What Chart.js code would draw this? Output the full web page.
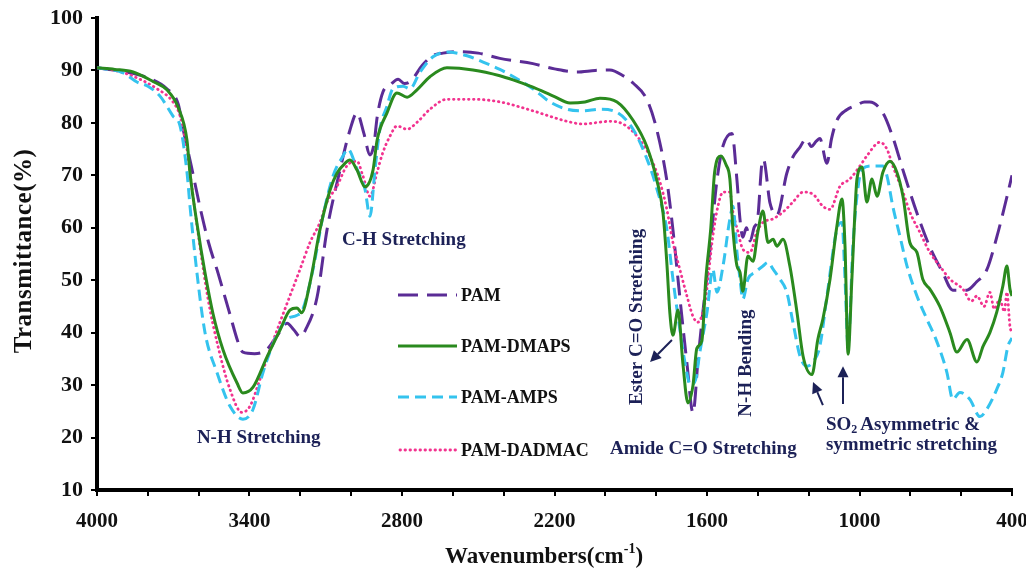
<!DOCTYPE html>
<html><head><meta charset="utf-8">
<script src="https://cdn.jsdelivr.net/npm/chart.js@4.4.0/dist/chart.umd.min.js"></script>
<style>html,body{margin:0;padding:0;background:#fff;}#wrap{width:1026px;height:570px;}</style>
</head><body><div id="wrap"><canvas id="c" width="1026" height="570"></canvas></div>
<script>
// ---------- DATA ----------
const seriesNames = ['PAM', 'PAM-DMAPS', 'PAM-AMPS', 'PAM-DADMAC'];
const xTickLabels = [4000, 3400, 2800, 2200, 1600, 1000, 400];
const yTicks = [10, 20, 30, 40, 50, 60, 70, 80, 90, 100];

const pamWn = [4000,3900,3800,3725,3680,3662,3630,3595,3560,3524,3480,3440,3426,3380,3347,3331,3290,3252,3225,3200,3180,3134,3095,3044,3005,2977,2950,2926,2910,2898,2875,2847,2815,2790,2765,2720,2680,2639,2580,2500,2415,2285,2200,2112,2040,1982,1930,1891,1836,1797,1758,1734,1707,1679,1655,1635,1616,1588,1561,1537,1502,1482,1470,1459,1445,1430,1415,1400,1384,1378,1352,1325,1286,1262,1234,1210,1190,1170,1156,1128,1110,1089,1050,1010,980,960,908,869,829,774,723,672,633,578,539,499,460,420,400];
const pamT  = [90.5,89.8,88.6,86.5,83.5,79,72,64,57,51.4,44,37.5,36.3,36,36.3,36.8,39.5,41.8,40.5,39.2,40.5,46.8,59.6,71,78.6,81.9,78,73.9,76,81,85.9,87.2,88.3,87.5,88,91,92.8,93.3,93.6,93.3,92.3,91.3,90.3,89.7,90,90.1,89,87.6,84.4,78.6,69,59.6,46.8,34.2,24.7,35,44,56,69,75.6,78,69,61.5,58.2,60,57.5,60,62,72.3,73,64.7,62.4,70.4,73.5,75.4,77,75.5,76.5,77,72.3,77,80.5,82.5,83.4,84,84,81.9,77.3,71,62.8,56.3,51.4,48.1,48.1,49.7,52,58.2,65.9,70];

const dmapsWn = [4000,3930,3858,3780,3725,3681,3646,3634,3607,3575,3544,3504,3449,3426,3386,3331,3280,3241,3213,3195,3162,3123,3083,3056,3024,3005,2977,2946,2914,2898,2859,2820,2780,2741,2690,2623,2521,2415,2363,2285,2200,2139,2080,2021,1954,1891,1836,1797,1773,1758,1746,1734,1714,1695,1675,1655,1640,1620,1605,1585,1570,1545,1525,1510,1498,1482,1470,1459,1439,1419,1400,1380,1360,1340,1325,1301,1274,1246,1222,1187,1164,1144,1116,1089,1069,1057,1045,1030,1018,1010,990,971,951,931,908,880,853,829,802,774,751,723,684,644,617,577,538,514,487,460,436,420,408,400];
const dmapsT  = [90.5,90.2,89.7,87.9,86.3,83,76.7,70.4,60.9,51.4,43.7,36.7,30.4,28.5,29.6,35.4,40.5,44.3,44.7,43.8,49.5,59.6,67.2,70.4,72.3,72.9,71,67.8,71,76.7,81.9,85.7,84.9,86.3,88.8,90.5,90.1,89,88.2,86.8,85,83.8,84,84.7,84,80.5,75.4,69,62.8,53.3,43.7,39.5,44.3,34.2,26.6,30,37,38.5,50,60,70.6,73.7,72,69.3,59.7,52.7,51.5,47.9,54.6,53.6,59.2,63.2,57.2,57.8,56.5,57.8,52.7,43.9,35.5,32,38.7,42.6,50.2,60.3,65.5,56.5,35.9,50.2,63,69.3,71.6,64.9,69.3,66,70.6,72.7,70.6,66,57.2,55.3,50.2,48.3,45,40,36.3,38.7,34.4,37.4,40,43.9,48.9,52.7,48.3,47];

const ampsWn = [4000,3900,3843,3800,3752,3701,3673,3646,3634,3607,3575,3528,3477,3426,3386,3347,3300,3252,3213,3190,3150,3111,3072,3032,3013,2977,2946,2926,2906,2887,2859,2836,2796,2769,2729,2678,2623,2544,2481,2415,2387,2285,2218,2151,2088,2021,1954,1891,1836,1797,1758,1734,1707,1687,1665,1645,1628,1600,1577,1561,1537,1510,1498,1482,1470,1459,1439,1411,1380,1360,1340,1313,1286,1262,1234,1207,1183,1156,1128,1089,1069,1057,1045,1026,1010,990,947,908,892,869,841,813,774,735,695,656,633,605,566,526,499,460,436,416,400];
const ampsT  = [90.5,89.6,87.8,87,85.1,81.3,79.4,70.6,64.1,51.5,40,32.4,26,23.5,25.4,32.4,38.7,42.6,43.3,44.5,52.1,62.2,69.8,73.7,75,71.2,67.4,62.2,71.2,78.8,83.2,86.5,87,86.5,89.7,92.6,93.5,92.8,91.6,90.2,89.5,86.5,84,82.6,82.3,82.6,82,78.8,73.1,67.4,59.7,50.2,40.7,34.4,30,31,36.3,43.9,52.1,47.7,52.7,61.7,64.1,55.3,50.2,46.4,50.2,51.5,52.7,53.4,52.1,50.2,47.7,42,35.5,33.6,34.4,37.4,47,59.7,61,50.2,37.4,56.5,66,71.2,71.8,71.8,69.9,64.1,58.4,52.7,47,42.6,38.2,32.4,27.3,28.6,27.3,24,25.4,29.2,32.4,37.4,39];

const dadmacWn = [4000,3930,3858,3764,3701,3673,3646,3626,3595,3563,3524,3477,3430,3398,3359,3319,3280,3241,3201,3162,3123,3095,3056,3017,2977,2954,2926,2898,2875,2847,2820,2780,2741,2690,2623,2521,2415,2285,2151,2088,1982,1931,1876,1825,1785,1758,1734,1707,1679,1655,1636,1608,1577,1557,1537,1510,1498,1478,1459,1431,1404,1380,1340,1301,1262,1222,1183,1144,1116,1077,1038,998,971,920,892,869,829,802,763,723,684,644,593,560,538,510,487,470,448,430,420,408,400];
const dadmacT  = [90.5,90,88.9,86.5,84,81.3,75,67.4,56.5,46.4,37.4,29.2,24.8,26,31.1,36.8,42,47,52.1,57.2,61,64.9,67.9,71.8,72.7,69.9,66,70.6,74.4,77.5,79.4,78.8,80.1,82.6,84.5,84.5,84,82.3,80.3,79.8,80.3,79.8,77.5,73.7,68.7,63.5,57.2,52.1,47,43.1,42,45.8,58.4,64.1,66.8,66.8,63,59.2,55.9,55.3,59.2,61,61.7,63,64.9,66.8,66.4,64.1,63.5,67.9,69.3,71.8,73.7,76.3,75,71.8,66.8,63,59.2,55.3,52.7,50.2,48.3,46,47,45,47.7,44.5,46.4,44,47.7,41.2,40];

// ---------- CHART ----------
const SERIF = '"Liberation Serif", "Times New Roman", serif';
const NAVY = '#1c2157';
const colors = ['#5b2c96', '#2a8a1e', '#34c3ee', '#f2338f'];
const dashes = [[20, 9], [], [11, 6], [0.5, 4.5]];
const widths = [3, 3, 3, 2.8];
const caps = ['butt', 'butt', 'butt', 'round'];

function toPoints(wn, t) { return wn.map((w, i) => ({ x: w, y: t[i] })); }
const seriesData = [toPoints(pamWn, pamT), toPoints(dmapsWn, dmapsT), toPoints(ampsWn, ampsT), toPoints(dadmacWn, dadmacT)];

const notes = [
  { text: 'C-H Stretching', wn: 3036, t: 57.7, rot: false },
  { text: 'N-H Stretching', wn: 3607, t: 19.9, rot: false },
  { text: 'Amide C=O Stretching', wn: 1982, t: 17.8, rot: false },
  { text: 'symmetric stretching', wn: 1132, t: 18.6, rot: false },
  { text: 'Ester C=O Stretching', wn: 1875, t: 43.0, rot: true },
  { text: 'N-H Bending', wn: 1447, t: 34.2, rot: true }
];
const arrows = [
  { from: [1738, 38.6], to: [1824, 34.4] },
  { from: [1144, 26.2], to: [1183, 30.6] },
  { from: [1065, 26.4], to: [1065, 33.6] }
];

const overlay = {
  id: 'overlay',
  afterDraw(chart) {
    const { ctx, scales: { x, y } } = chart;
    ctx.save();
    ctx.fillStyle = NAVY;
    ctx.font = 'bold 19px ' + SERIF;
    ctx.textBaseline = 'middle';
    notes.forEach(n => {
      const px = x.getPixelForValue(n.wn), py = y.getPixelForValue(n.t);
      if (n.rot) {
        ctx.save(); ctx.translate(px, py); ctx.rotate(-Math.PI / 2);
        ctx.textAlign = 'center'; ctx.fillText(n.text, 0, 0); ctx.restore();
      } else {
        ctx.textAlign = 'left'; ctx.fillText(n.text, px, py);
      }
    });
    {
      let px = x.getPixelForValue(1132), py = y.getPixelForValue(22.4);
      ctx.textAlign = 'left';
      ctx.fillText('SO', px, py); px += ctx.measureText('SO').width;
      ctx.font = 'bold 12px ' + SERIF; ctx.fillText('2', px, py + 5); px += ctx.measureText('2').width + 3;
      ctx.font = 'bold 19px ' + SERIF; ctx.fillText('Asymmetric &', px, py);
    }
    ctx.strokeStyle = NAVY; ctx.lineWidth = 2;
    arrows.forEach(a => {
      const x1 = x.getPixelForValue(a.from[0]), y1 = y.getPixelForValue(a.from[1]);
      const x2 = x.getPixelForValue(a.to[0]), y2 = y.getPixelForValue(a.to[1]);
      const ang = Math.atan2(y2 - y1, x2 - x1), L = 11, W = 5.5;
      const bx = x2 - L * Math.cos(ang), by = y2 - L * Math.sin(ang);
      ctx.beginPath(); ctx.moveTo(x1, y1); ctx.lineTo(bx, by); ctx.stroke();
      ctx.beginPath(); ctx.moveTo(x2, y2);
      ctx.lineTo(bx + W * Math.sin(ang), by - W * Math.cos(ang));
      ctx.lineTo(bx - W * Math.sin(ang), by + W * Math.cos(ang));
      ctx.closePath(); ctx.fill();
    });
    const rows = [295, 346, 397, 450];
    ctx.font = 'bold 18px ' + SERIF; ctx.fillStyle = '#111'; ctx.textAlign = 'left';
    rows.forEach((ry, i) => {
      ctx.save();
      ctx.strokeStyle = colors[i]; ctx.lineWidth = widths[i]; ctx.setLineDash(dashes[i]); ctx.lineCap = caps[i];
      ctx.beginPath(); ctx.moveTo(i === 3 ? 400 : 398, ry); ctx.lineTo(457, ry); ctx.stroke();
      ctx.restore();
      ctx.fillText(seriesNames[i], 461, ry + 1);
    });
    ctx.fillStyle = '#111';
    ctx.save();
    ctx.translate(25, 251); ctx.rotate(-Math.PI / 2);
    ctx.font = 'bold 25px ' + SERIF; ctx.textAlign = 'center';
    try { ctx.letterSpacing = '0.5px'; } catch (e) {}
    ctx.fillText('Transmittance(%)', 0, 0);
    ctx.restore();
    {
      ctx.font = 'bold 23px ' + SERIF; ctx.textAlign = 'left';
      const a = 'Wavenumbers(cm', b = '-1', c = ')';
      const wa = ctx.measureText(a).width;
      ctx.font = 'bold 14px ' + SERIF; const wb = ctx.measureText(b).width;
      ctx.font = 'bold 23px ' + SERIF; const wc = ctx.measureText(c).width;
      let sx = 544 - (wa + wb + wc) / 2; const sy = 557;
      ctx.fillText(a, sx, sy); sx += wa;
      ctx.font = 'bold 14px ' + SERIF; ctx.fillText(b, sx, sy - 8); sx += wb;
      ctx.font = 'bold 23px ' + SERIF; ctx.fillText(c, sx, sy);
    }
    ctx.restore();
  }
};

new Chart(document.getElementById('c'), {
  type: 'line',
  data: {
    datasets: seriesNames.map((name, i) => ({
      label: name,
      data: seriesData[i],
      borderColor: colors[i],
      borderWidth: widths[i],
      borderDash: dashes[i],
      borderCapStyle: caps[i],
      pointRadius: 0,
      fill: false,
      cubicInterpolationMode: 'monotone',
      order: [3, 0, 1, 2][i]
    }))
  },
  options: {
    responsive: false,
    animation: false,
    devicePixelRatio: 1,
    layout: { padding: { top: 18, right: 14, left: 0, bottom: 0 }, autoPadding: false },
    plugins: { legend: { display: false }, tooltip: { enabled: false } },
    scales: {
      x: {
        type: 'linear', reverse: true, min: 400, max: 4000,
        afterFit: s => { s.height = 80; s.paddingLeft = 0; s.paddingRight = 0; },
        border: { display: true, color: '#000', width: 4 },
        grid: { drawOnChartArea: false, drawTicks: true, tickLength: 6, color: '#000', lineWidth: 2 },
        ticks: {
          stepSize: 200, autoSkip: false, maxRotation: 0, padding: 13,
          color: '#111', font: { family: SERIF, size: 21, weight: 'bold' },
          callback: v => xTickLabels.includes(v) ? String(v) : ''
        }
      },
      y: {
        min: 10, max: 100,
        afterFit: s => { s.width = 97; s.paddingTop = 0; s.paddingBottom = 0; },
        afterBuildTicks: s => { s.ticks = yTicks.map(v => ({ value: v })); },
        border: { display: true, color: '#000', width: 4 },
        grid: { drawOnChartArea: false, drawTicks: true, tickLength: 6, color: '#000', lineWidth: 2 },
        ticks: {
          padding: 8, color: '#111', font: { family: SERIF, size: 22, weight: 'bold' }
        }
      }
    }
  },
  plugins: [overlay]
});
</script></body></html>
